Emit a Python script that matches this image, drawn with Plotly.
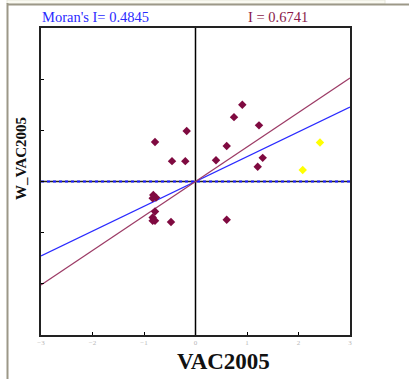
import plotly.graph_objects as go

# Standardised VAC2005 values (x) and their spatial lags W_VAC2005 (y)
vac = [-0.786, -0.171, -0.456, -0.198, 0.909, 0.748, 1.233, 0.606, 0.398, 1.305,
       1.208, 0.606, -0.819, -0.767, -0.831, -0.786, -0.831, -0.786, -0.831, -0.476]
w_vac = [0.773, 0.986, 0.398, 0.398, 1.499, 1.258, 1.097, 0.695, 0.417, 0.462,
         0.287, -0.748, -0.262, -0.315, -0.326, -0.586, -0.703, -0.767, -0.767, -0.792]

# Highlighted (selected) observations
sel_vac = [2.417, 2.082]
sel_w = [0.761, 0.223]

# Slopes of the two fitted lines
moran_i = 0.4845
moran_i_sel = 0.6741

x_range = [-3, 3]
x_ticks = [-3, -2, -1, 0, 1, 2, 3]
y_ticks = [-3, -2, -1, 0, 1, 2, 3]

W, H = 409, 379
L, R, T, B = 41, 350, 28, 335


def px(x):
    return (x - L) / (R - L)


def py(y):
    return (B - y) / (B - T)


fig = go.Figure()

# zero reference lines
fig.add_trace(go.Scatter(x=[0, 0], y=[-3, 3], mode="lines",
                         line=dict(color="black", width=1.5), hoverinfo="skip"))
fig.add_trace(go.Scatter(x=x_range, y=[0, 0], mode="lines",
                         line=dict(color="#222222", width=1.5), hoverinfo="skip"))
fig.add_trace(go.Scatter(x=x_range, y=[0, 0], mode="lines",
                         line=dict(color="#1a1aff", width=2.2, dash="3px,3px"),
                         hoverinfo="skip"))

# regression lines through the origin
fig.add_trace(go.Scatter(x=x_range, y=[moran_i * v for v in x_range], mode="lines",
                         line=dict(color="#2a2aff", width=1.2)))
fig.add_trace(go.Scatter(x=x_range, y=[moran_i_sel * v for v in x_range], mode="lines",
                         line=dict(color="#9c3b66", width=1.2)))

# observations
fig.add_trace(go.Scatter(x=vac, y=w_vac, mode="markers",
                         marker=dict(symbol="diamond", size=6.5, color="#7f0a40")))
fig.add_trace(go.Scatter(x=sel_vac, y=sel_w, mode="markers",
                         marker=dict(symbol="diamond", size=6.5, color="#ffff00")))

serif = "Liberation Serif, Times New Roman, serif"

fig.update_layout(
    width=W, height=H,
    margin=dict(l=L, r=W - R, t=T, b=H - B, pad=0),
    paper_bgcolor="white", plot_bgcolor="white",
    showlegend=False,
    xaxis=dict(range=x_range, tickvals=x_ticks, ticks="inside", ticklen=3,
               tickcolor="black", tickwidth=1, showgrid=False, zeroline=False,
               showline=True, linecolor="#222222", linewidth=1.5, mirror=True,
               tickfont=dict(family=serif, size=7, color="#b8b8b8")),
    yaxis=dict(range=[-3, 3], tickvals=y_ticks, ticks="inside", ticklen=3,
               tickcolor="black", tickwidth=1, showticklabels=False,
               showgrid=False, zeroline=False,
               showline=True, linecolor="#222222", linewidth=1.5, mirror=True),
    annotations=[
        dict(text="Moran's I= 0.4845", xref="paper", yref="paper",
             x=px(40), y=py(17), xanchor="left", yanchor="middle", showarrow=False,
             font=dict(family=serif, size=14.5, color="#2a2aff")),
        dict(text="I = 0.6741", xref="paper", yref="paper",
             x=px(246), y=py(17), xanchor="left", yanchor="middle", showarrow=False,
             font=dict(family=serif, size=14.5, color="#8b1a4a")),
        dict(text="<b>VAC2005</b>", xref="paper", yref="paper",
             x=px(223), y=py(361), xanchor="center", yanchor="middle", showarrow=False,
             font=dict(family=serif, size=23, color="#111111")),
        dict(text="<b>W_VAC2005</b>", xref="paper", yref="paper",
             x=px(21), y=py(159), xanchor="center", yanchor="middle", showarrow=False,
             textangle=-90, font=dict(family=serif, size=15, color="#111111")),
    ],
    shapes=[
        # window frame strip along the top and left
        dict(type="rect", xref="paper", yref="paper", x0=px(7), x1=px(385),
             y0=py(0), y1=py(4), fillcolor="#fafaf2", line=dict(color="#e6e6da", width=1),
             layer="above"),
        dict(type="line", xref="paper", yref="paper", x0=px(7), x1=px(409),
             y0=py(4.5), y1=py(4.5), line=dict(color="#9c9888", width=2)),
        dict(type="line", xref="paper", yref="paper", x0=px(7.5), x1=px(7.5),
             y0=py(3), y1=py(379), line=dict(color="#9c9888", width=2)),
    ],
)

fig.write_html("out.html")
